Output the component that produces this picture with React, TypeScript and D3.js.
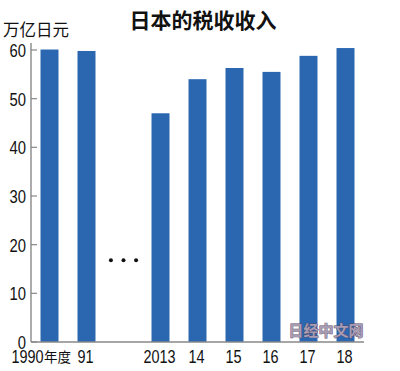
import React from 'react'
import * as d3 from 'd3'

// 日本税收 (万亿日元)
const categories = ['1990', '1991', 'gap', '2013', '2014', '2015', '2016', '2017', '2018']
const tickLabels = ['1990', '91', '', '2013', '14', '15', '16', '17', '18']
const years = ['1990', '1991', '2013', '2014', '2015', '2016', '2017', '2018']
const revenue = [60.1, 59.8, 47.0, 54.0, 56.3, 55.5, 58.8, 60.4]
const yTicks = [0, 10, 20, 30, 40, 50, 60]
const dotValue = 16.8

const W = 400
const H = 371
const sans = '"Liberation Sans", Arial, sans-serif'
const cjk = '"Noto Sans CJK SC", "Noto Sans", sans-serif'
const squeeze = 0.78 // the source uses a condensed face for numbers

export default function App() {
    const x0 = 31
    const x1 = 364
    const x = d3.scaleBand<string>()
        .domain(categories)
        .range([x0, x1])
        .paddingInner(0.514)
        .paddingOuter(0.257)

    const y = d3.scaleLinear().domain([0, 60]).range([342, 50])

    const gapX = x('gap')! + x.bandwidth() / 2
    const step = x.step()

    return (
        <svg width={W} height={H} style={{ position: 'absolute', left: 0, top: 0, background: '#fff' }}>
            {/* title */}
            <text x={203} y={28} textAnchor="middle" fontFamily={cjk} fontWeight="bold" fontSize={21} fill="#111">
                日本的税收收入
            </text>
            <text x={3} y={36} fontFamily={cjk} fontSize={16.5} fill="#111">万亿日元</text>

            {/* bars */}
            {years.map((yr, i) => (
                <rect key={yr}
                    x={x(yr)}
                    y={y(revenue[i])}
                    width={x.bandwidth()}
                    height={y(0) - y(revenue[i])}
                    fill="#2b67b1" />
            ))}

            {/* gap dots */}
            {[-1, 0, 1].map(k => (
                <circle key={k} cx={gapX + k * step * 0.34} cy={y(dotValue)} r={2} fill="#111" />
            ))}

            {/* y axis */}
            <line x1={x0} x2={x0} y1={43} y2={y(0)} stroke="#888" strokeWidth={1.4} />
            {yTicks.map(t => (
                <g key={t}>
                    <line x1={x0} x2={x0 + 6} y1={y(t)} y2={y(t)} stroke="#888" strokeWidth={1.2} />
                    <text transform={`translate(${x0 - 5},${y(t)}) scale(${squeeze},1)`} dy="0.36em" textAnchor="end"
                        fontFamily={sans} fontSize={19} fill="#111">{t}</text>
                </g>
            ))}

            {/* x axis */}
            <line x1={x0} x2={x1} y1={y(0)} y2={y(0)} stroke="#888" strokeWidth={1.4} />
            {categories.map((c, i) => (
                !tickLabels[i] ? null : i === 0 ? (
                    <g key={c}>
                        <text transform={`translate(${x(c)! + 3},363) scale(${squeeze},1)`} textAnchor="end"
                            fontFamily={sans} fontSize={18.5} fill="#111">{tickLabels[i]}</text>
                        <text x={x(c)! + 3.5} y={362} fontFamily={cjk} fontSize={13.5} fill="#111">年度</text>
                    </g>
                ) : (
                    <text key={c}
                        transform={`translate(${x(c)! + x.bandwidth() / 2 - 1},363) scale(${squeeze},1)`}
                        textAnchor="middle"
                        fontFamily={sans}
                        fontSize={18.5}
                        fill="#111">{tickLabels[i]}</text>
                )
            ))}

            {/* watermark */}
            <text x={326} y={336} textAnchor="middle" fontFamily={cjk} fontWeight="bold" fontSize={15}
                fill="#a89cb4" stroke="#5a4a66" strokeWidth={0.8} paintOrder="stroke">日经中文网</text>
        </svg>
    )
}
